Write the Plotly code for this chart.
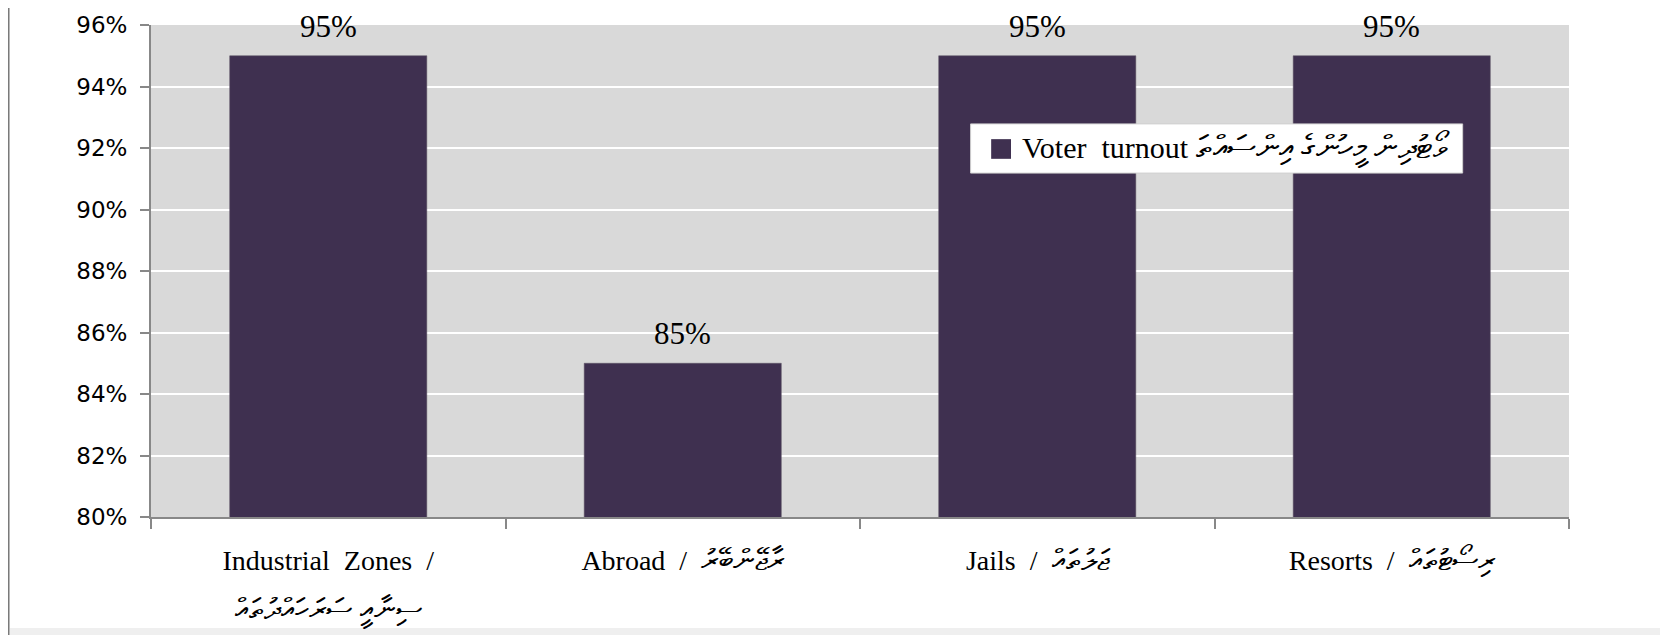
import plotly.graph_objects as go

# data
categories = ["Industrial Zones", "Abroad", "Jails", "Resorts"]
labels_dv = ["ސިނާއީ ސަރަހައްދުތައް", "ރާޖޭންބޭރު", "ޖަލުތައް", "ރިސޯޓުތައް"]
turnout = [0.95, 0.85, 0.95, 0.95]
series_en = "Voter turnout"
series_dv = "ވޯޓުދިން މީހުންގެ އިންސައްތަ"

BAR = "#3f3050"
SERIF = "Liberation Serif, Times New Roman, DejaVu Serif, serif"
SANS = "DejaVu Sans, Noto Sans, sans-serif"

nb = "\u00a0"


def span(txt, size):
    return f"<span style='font-size:{size}px'>{txt}</span>"


ticktext = []
for en, dv in zip(categories, labels_dv):
    en_txt = en.replace(" ", nb * 2)
    if en == "Industrial Zones":
        ticktext.append(span(f"{en_txt}{nb*2}/", 28) + "<br>" + span(dv, 30))
    else:
        ticktext.append(span(f"{en_txt}{nb*2}/{nb*2}", 28) + span(dv, 30))

fig = go.Figure()
fig.add_trace(go.Bar(
    x=categories,
    y=turnout,
    marker={"color": BAR, "line": {"color": "#5a5060", "width": 0.5}},
    name=f"{series_en} {series_dv}",
    showlegend=False,
))

# value labels above the bars
for c, v in zip(categories, turnout):
    fig.add_annotation(
        x=c, y=v, text=f"{v:.0%}", showarrow=False,
        yanchor="bottom", yshift=10,
        font={"family": SERIF, "size": 31, "color": "#000"},
    )

# legend box drawn by hand (square marker + text)
fig.add_shape(type="rect", xref="paper", yref="paper",
              x0=0.578, x1=0.925, y0=0.699, y1=0.799,
              fillcolor="white", line={"color": "#d0d0d0", "width": 1}, layer="above")
fig.add_shape(type="rect", xref="paper", yref="paper",
              x0=0.5925, x1=0.6065, y0=0.728, y1=0.768,
              fillcolor=BAR, line={"width": 0}, layer="above")
fig.add_annotation(
    xref="paper", yref="paper", x=0.6125, y=0.749, xanchor="left", yanchor="middle",
    text=series_en.replace(" ", nb * 2) + nb + span(series_dv, 33), showarrow=False,
    font={"family": SERIF, "size": 30, "color": "#000"},
)

# page frame: left border and grey strip at the bottom
fig.add_shape(type="line", xref="paper", yref="paper",
              x0=-0.1003, x1=-0.1003, y0=-0.3, y1=1.1,
              line={"color": "#777", "width": 1.5})
fig.add_shape(type="rect", xref="paper", yref="paper",
              x0=-0.0995, x1=1.1, y0=-0.3, y1=-0.2256,
              fillcolor="#efefef", line={"width": 0}, layer="below")

fig.update_layout(
    width=1652, height=627,
    margin={"l": 143, "r": 91, "t": 17, "b": 118},
    paper_bgcolor="white",
    plot_bgcolor="#d9d9d9",
    bargap=0.444,
    showlegend=False,
    xaxis={
        "tickmode": "array",
        "tickvals": categories,
        "ticktext": ticktext,
        "tickson": "boundaries",
        "ticks": "outside",
        "ticklen": 10,
        "tickcolor": "#888",
        "tickwidth": 1.5,
        "showline": True,
        "linecolor": "#888",
        "linewidth": 2,
        "showgrid": False,
        "automargin": False,
        "ticklabelstandoff": 7,
        "tickfont": {"family": SERIF, "size": 37, "color": "#000"},
    },
    yaxis={
        "range": [0.80, 0.96],
        "dtick": 0.02,
        "tickformat": ".0%",
        "ticks": "outside",
        "ticklen": 9,
        "tickcolor": "#888",
        "tickwidth": 1.5,
        "showline": True,
        "linecolor": "#888",
        "linewidth": 2,
        "gridcolor": "white",
        "gridwidth": 2,
        "zeroline": False,
        "automargin": False,
        "ticklabelstandoff": 8,
        "tickfont": {"family": SANS, "size": 23, "color": "#000"},
    },
)

fig.write_html("out.html")
